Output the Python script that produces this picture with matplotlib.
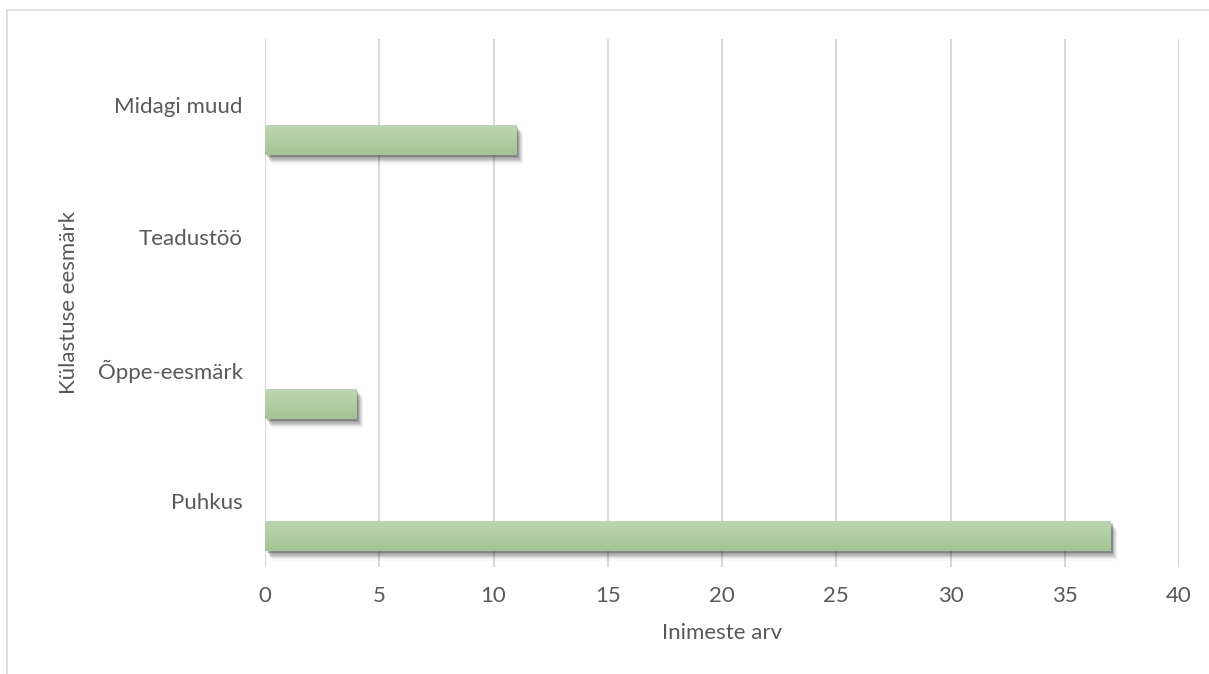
import matplotlib
matplotlib.use("Agg")
import matplotlib.pyplot as plt
import matplotlib.patheffects as pe
import numpy as np
from matplotlib.lines import Line2D
from matplotlib.colors import LinearSegmentedColormap

categories = ["Puhkus", "Õppe-eesmärk", "Teadustöö", "Midagi muud"]
values = [37, 4, 0, 11]
xticks = [0, 5, 10, 15, 20, 25, 30, 35, 40]

plt.rcParams['font.family'] = ['Lato', 'DejaVu Sans']
W, H = 1209, 674
fig = plt.figure(figsize=(W / 100, H / 100), dpi=100)
ax = fig.add_axes([265 / W, 1 - 567 / H, (1179 - 265) / W, (567 - 39) / H])

y = np.arange(len(categories))
offset = 35 / 132
height = 30 / 132

shadow = [pe.SimplePatchShadow(offset=(1.5 + 0.6 * i, -1.5 - 0.9 * i), shadow_rgbFace='black', alpha=a)
          for i, a in enumerate([0.16, 0.13, 0.10, 0.08, 0.06, 0.04, 0.025])]
bars = ax.barh(y - offset, values, height=height, color='#b2d0a4', zorder=3)
grad = np.linspace(0, 1, 64).reshape(-1, 1)
cmap = LinearSegmentedColormap.from_list('g', ['#bcd6b0', '#a3c495'])
for b in bars:
    b.set_path_effects(shadow + [pe.Normal()])
    if b.get_width() > 0:
        x0, y0 = b.get_x(), b.get_y()
        im = ax.imshow(grad, extent=(x0, x0 + b.get_width(), y0, y0 + b.get_height()),
                       cmap=cmap, aspect='auto', zorder=4, interpolation='bicubic')
        im.set_clip_path(b)

ax.set_xlim(0, 40)
ax.set_ylim(-0.5, len(categories) - 0.5)
ax.set_xticks(xticks)
ax.set_yticks(y)
ax.set_yticklabels(categories)
ax.tick_params(axis='both', length=0, labelsize=16, labelcolor='#595959')
ax.tick_params(axis='x', pad=14)
ax.tick_params(axis='y', pad=16)
ax.grid(axis='x', color='#d9d9d9', linewidth=1.5, zorder=0)
ax.set_axisbelow(True)
for s in ax.spines.values():
    s.set_visible(False)
ax.set_xlabel("Inimeste arv", fontsize=16, color='#595959', labelpad=12)
ax.set_ylabel("Külastuse eesmärk", fontsize=16, color='#595959', labelpad=13.5)

# chart frame (partially visible)
fig.add_artist(Line2D([7 / W, 7 / W], [0, 1 - 10 / H], transform=fig.transFigure,
                      color='#d9d9d9', linewidth=1.2))
fig.add_artist(Line2D([7 / W, 1], [1 - 10 / H, 1 - 10 / H], transform=fig.transFigure,
                      color='#d9d9d9', linewidth=1.2))

fig.savefig("out.png", dpi=100)
